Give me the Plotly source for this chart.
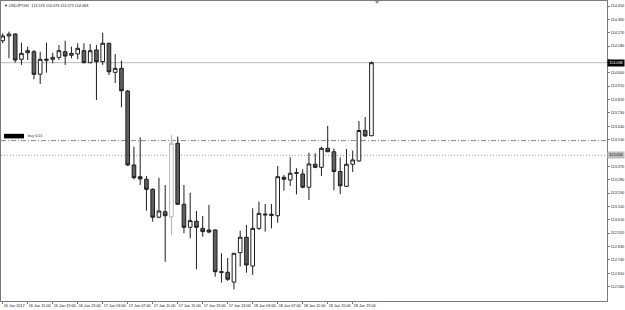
import plotly.graph_objects as go

# ---------------- data (USDJPY, H1) ----------------
open_ = [114.216, 114.248, 114.261, 114.091, 114.135, 114.142, 113.990, 114.084, 114.091, 114.104,
         114.142, 114.118, 114.127, 114.149, 114.068, 114.154, 114.075, 114.199, 114.003, 114.030,
         113.877, 113.379, 113.300, 113.283, 113.215, 113.027, 113.064, 113.030, 113.525, 113.114,
         112.959, 113.000, 112.952, 112.941, 112.941, 112.660, 112.656, 112.590, 112.788, 112.892,
         112.698, 112.952, 113.042, 113.047, 113.037, 113.296, 113.278, 113.323, 113.318, 113.229,
         113.384, 113.363, 113.491, 113.468, 113.335, 113.235, 113.384, 113.406, 113.611, 113.576]
high = [114.266, 114.277, 114.266, 114.203, 114.176, 114.154, 114.142, 114.203, 114.135, 114.187,
        114.216, 114.176, 114.199, 114.199, 114.194, 114.187, 114.270, 114.203, 114.127, 114.082,
        113.884, 113.502, 113.565, 113.305, 113.222, 113.293, 113.244, 113.581, 113.570, 113.244,
        113.192, 113.069, 113.035, 113.109, 112.945, 112.784, 112.752, 112.786, 112.936, 112.975,
        113.087, 113.132, 113.116, 113.116, 113.372, 113.311, 113.431, 113.357, 113.350, 113.462,
        113.458, 113.502, 113.642, 113.491, 113.429, 113.487, 113.476, 113.675, 113.702, 114.076]
low = [114.199, 114.098, 114.068, 114.053, 114.086, 113.956, 113.925, 114.001, 114.064, 114.086,
       114.053, 114.098, 114.091, 114.064, 114.064, 113.817, 114.053, 113.985, 113.931, 113.768,
       113.372, 113.283, 113.244, 113.071, 112.997, 113.020, 112.727, 112.907, 113.110, 112.919,
       112.885, 112.676, 112.896, 112.919, 112.626, 112.587, 112.598, 112.541, 112.694, 112.653,
       112.638, 112.941, 112.930, 112.952, 112.990, 113.206, 113.237, 113.181, 113.222, 113.143,
       113.357, 113.305, 113.466, 113.209, 113.183, 113.231, 113.332, 113.402, 113.571, 113.573]
close = [114.248, 114.261, 114.086, 114.131, 114.149, 113.990, 114.091, 114.091, 114.104, 114.149,
         114.113, 114.131, 114.165, 114.068, 114.149, 114.075, 114.199, 114.007, 114.030, 113.879,
         113.379, 113.293, 113.285, 113.215, 113.027, 113.069, 113.037, 113.525, 113.114, 112.959,
         113.004, 112.959, 112.930, 112.927, 112.660, 112.656, 112.609, 112.784, 112.892, 112.705,
         112.952, 113.053, 113.047, 113.040, 113.300, 113.283, 113.323, 113.327, 113.229, 113.386,
         113.363, 113.491, 113.468, 113.335, 113.239, 113.384, 113.413, 113.611, 113.574, 114.068]

highlight_bar = 27          # bar drawn in a lighter colour in the original

time_tick_index = [0, 4, 8, 12, 16, 20, 24, 28, 32, 36, 40, 44, 48, 52, 56]
time_tick_text = ["16 Jan 2017", "16 Jan 15:00", "16 Jan 19:00", "16 Jan 23:00", "17 Jan 03:00",
                  "17 Jan 07:00", "17 Jan 11:00", "17 Jan 15:00", "17 Jan 19:00", "17 Jan 23:00",
                  "18 Jan 03:00", "18 Jan 07:00", "18 Jan 11:00", "18 Jan 15:00", "18 Jan 19:00"]

price_ticks = [114.450, 114.360, 114.270, 114.180, 114.090, 114.000, 113.910, 113.820, 113.730,
               113.640, 113.550, 113.460, 113.370, 113.280, 113.190, 113.100, 113.010, 112.920,
               112.830, 112.740, 112.650, 112.560]

bid_price = 114.068
order_price = 113.543
order_label = "buy 0.01"
stop_price = 113.444
title_text = "USDJPY,H1  113.576 114.076 113.573 114.068"

FONT = "Liberation Sans"
FS = 3.8

# tick labels hidden under the price boxes on the scale
covered = [114.090, 113.460]
price_tick_text = ["" if v in covered else f"{v:.3f}" for v in price_ticks]

idx = list(range(len(open_)))
main = [i for i in idx if i != highlight_bar]

fig = go.Figure()
fig.add_trace(go.Candlestick(
    x=main,
    open=[open_[i] for i in main], high=[high[i] for i in main],
    low=[low[i] for i in main], close=[close[i] for i in main],
    increasing=dict(fillcolor="white", line=dict(color="#1e1e1e", width=1)),
    decreasing=dict(fillcolor="#5f5f5f", line=dict(color="#1e1e1e", width=1)),
    whiskerwidth=0, showlegend=False, hoverinfo="skip",
))
fig.add_trace(go.Candlestick(
    x=[highlight_bar],
    open=[open_[highlight_bar]], high=[high[highlight_bar]],
    low=[low[highlight_bar]], close=[close[highlight_bar]],
    increasing=dict(fillcolor="white", line=dict(color="#b4b4b4", width=1)),
    decreasing=dict(fillcolor="#b4b4b4", line=dict(color="#b4b4b4", width=1)),
    whiskerwidth=0, showlegend=False, hoverinfo="skip",
))

# horizontal levels
fig.add_hline(y=bid_price, line=dict(color="#b8b8b8", width=1), layer="below")
fig.add_hline(y=order_price, line=dict(color="#8a8a8a", width=1, dash="5px,2px,1px,2px"), layer="below")
fig.add_hline(y=stop_price, line=dict(color="#9a9a9a", width=1, dash="1px,2px"), layer="below")

# order label (ticket redacted)
fig.add_shape(type="rect", xref="paper", yref="y", x0=0.005, x1=0.038,
              y0=order_price + 0.015, y1=order_price + 0.046,
              fillcolor="black", line=dict(width=0))
fig.add_annotation(xref="paper", yref="y", x=0.041, y=order_price + 0.03, text=order_label,
                   showarrow=False, xanchor="left", yanchor="middle",
                   font=dict(family=FONT, size=FS, color="#333333"))

# title
fig.add_annotation(xref="paper", yref="paper", x=0.002, y=0.997, text="▼ " + title_text,
                   showarrow=False, xanchor="left", yanchor="top",
                   font=dict(family=FONT, size=FS, color="#222222"))

# chart-shift marker
fig.add_shape(type="path", xref="paper", yref="paper",
              path="M 0.617 1 L 0.624 1 L 0.6205 0.99 Z",
              fillcolor="#909090", line=dict(width=0))

# price boxes on the scale
fig.add_annotation(xref="paper", yref="y", x=1.0, y=bid_price, text=f"{bid_price:.3f}",
                   showarrow=False, xanchor="left", yanchor="middle", bgcolor="black",
                   width=16, height=6, borderpad=0,
                   font=dict(family=FONT, size=FS, color="white"))
fig.add_annotation(xref="paper", yref="y", x=1.0, y=stop_price, text=f"{stop_price:.3f}",
                   showarrow=False, xanchor="left", yanchor="middle", bgcolor="#bdbdbd",
                   width=16, height=6, borderpad=0,
                   font=dict(family=FONT, size=FS, color="#222222"))

fig.update_layout(
    width=625, height=310,
    margin=dict(l=1, r=18, t=1, b=9, pad=0, autoexpand=False),
    paper_bgcolor="white", plot_bgcolor="white",
    boxgap=0.42, boxgroupgap=0,
    font=dict(family=FONT, size=FS, color="#222222"),
    xaxis=dict(
        range=[-0.272, 96.69], rangeslider=dict(visible=False),
        automargin=False,
        showgrid=False, zeroline=False,
        showline=True, mirror=True, linecolor="#7a7a7a", linewidth=1,
        tickmode="array", tickvals=time_tick_index, ticktext=time_tick_text,
        ticks="outside", ticklen=2, tickcolor="#7a7a7a", tickangle=0,
        ticklabelposition="outside right",
        tickfont=dict(family=FONT, size=FS, color="#222222"),
    ),
    yaxis=dict(
        range=[112.4625, 114.4837], side="right",
        automargin=False,
        showgrid=False, zeroline=False,
        showline=True, mirror=True, linecolor="#7a7a7a", linewidth=1,
        tickmode="array", tickvals=price_ticks, ticktext=price_tick_text,
        ticks="outside", ticklen=2, tickcolor="#7a7a7a",
        tickfont=dict(family=FONT, size=FS, color="#222222"),
    ),
)

fig.write_html("out.html")
